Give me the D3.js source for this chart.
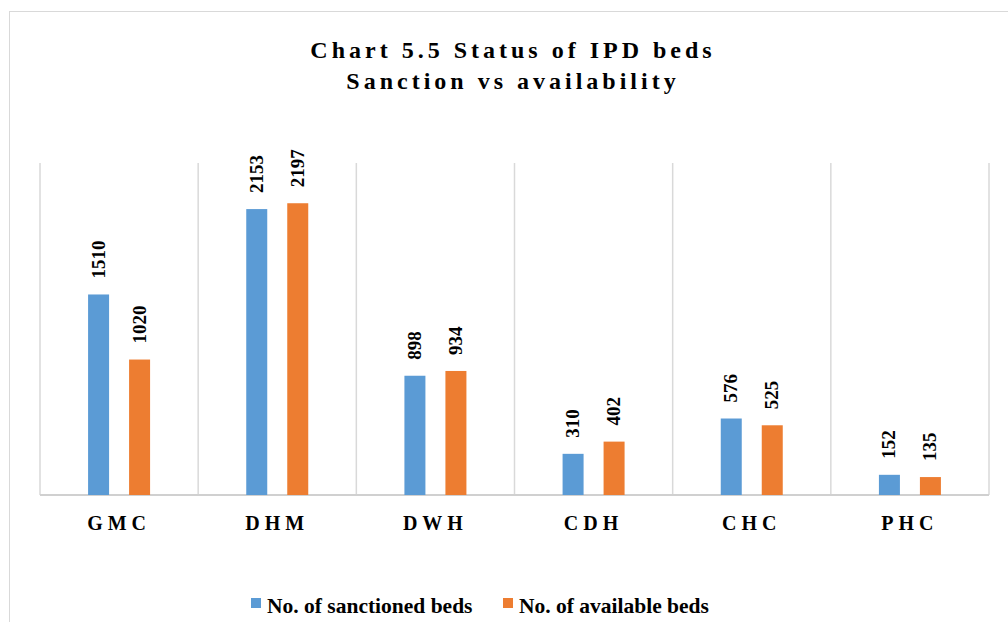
<!DOCTYPE html>
<html>
<head>
<meta charset='utf-8'>
<title>Status of IPD beds</title>
<style>
  body { margin: 0; background: #fff; }
  svg { display: block; font-family: 'Liberation Serif', 'Times New Roman', serif; }
</style>
<script src='https://d3js.org/d3.v7.min.js'></script>
</head>
<body>
<div id="chart"></div>
<script>
// ******* Data *******
const categories = ["GMC", "DHM", "DWH", "CDH", "CHC", "PHC"];
const sanctioned = [1510, 2153, 898, 310, 576, 152];
const available = [1020, 2197, 934, 402, 525, 135];
const seriesNames = ["No. of sanctioned beds", "No. of available beds"];
const colors = ["#5B9BD5", "#ED7D31"];

const width = 1008, height = 622;
const plot = {left: 40, right: 989, top: 163, bottom: 495};

const svg = d3.select("#chart").append("svg")
    .attr("width", width)
    .attr("height", height);

// outer chart frame
svg.append("rect")
    .attr("x", 9.5).attr("y", 11.5)
    .attr("width", 1010).attr("height", 640)
    .attr("fill", "none")
    .attr("stroke", "#d9d9d9");

// ******* Scales *******
const x = d3.scaleBand()
    .domain(categories)
    .range([plot.left, plot.right]);

const y = d3.scaleLinear()
    .domain([0, 2500])
    .range([plot.bottom, plot.top]);

const barW = 21, gap = 20;
const offsets = [-(barW + gap / 2), gap / 2];

// category separators
svg.append("g")
    .selectAll("line")
    .data(categories.concat(["end"]))
    .join("line")
    .attr("x1", (d, i) => i < categories.length ? x(d) : plot.right)
    .attr("x2", (d, i) => i < categories.length ? x(d) : plot.right)
    .attr("y1", plot.top)
    .attr("y2", plot.bottom)
    .attr("stroke", "#d9d9d9")
    .attr("stroke-width", 1.5);

// baseline
svg.append("line")
    .attr("x1", plot.left).attr("x2", plot.right)
    .attr("y1", plot.bottom).attr("y2", plot.bottom)
    .attr("stroke", "#d0d0d0")
    .attr("stroke-width", 2);

// ******* Bars *******
const rows = categories.map((c, i) => ({cat: c, vals: [sanctioned[i], available[i]]}));

const groups = svg.append("g")
    .selectAll("g")
    .data(rows)
    .join("g")
    .attr("transform", d => `translate(${x(d.cat) + x.bandwidth() / 2},0)`);

groups.selectAll("rect")
    .data(d => d.vals)
    .join("rect")
    .attr("x", (d, i) => offsets[i])
    .attr("y", d => y(d))
    .attr("width", barW)
    .attr("height", d => plot.bottom - y(d))
    .attr("fill", (d, i) => colors[i]);

// value labels, rotated
groups.selectAll("text")
    .data(d => d.vals)
    .join("text")
    .attr("transform", (d, i) => `translate(${offsets[i] + barW / 2 + 6},${y(d) - 16}) rotate(-90)`)
    .attr("text-anchor", "start")
    .attr("font-size", 19)
    .attr("font-weight", "bold")
    .attr("fill", "#000")
    .text(d => d);

// ******* Category labels *******
svg.append("g")
    .selectAll("text")
    .data(categories)
    .join("text")
    .attr("x", d => x(d) + x.bandwidth() / 2)
    .attr("y", 530)
    .attr("text-anchor", "middle")
    .attr("font-size", 20)
    .attr("font-weight", "bold")
    .attr("letter-spacing", "5px")
    .text(d => d);

// ******* Title *******
const title = svg.append("text")
    .attr("text-anchor", "middle")
    .attr("font-size", 24)
    .attr("font-weight", "bold")
    .attr("letter-spacing", "4px");
title.append("tspan").attr("x", 513).attr("y", 58).text("Chart 5.5 Status of IPD beds");
title.append("tspan").attr("x", 513).attr("y", 89).text("Sanction vs availability");

// ******* Legend *******
const legendX = [251, 503];
const legend = svg.append("g")
    .selectAll("g")
    .data(seriesNames)
    .join("g")
    .attr("transform", (d, i) => `translate(${legendX[i]},598)`);

legend.append("rect")
    .attr("width", 10).attr("height", 10)
    .attr("fill", (d, i) => colors[i]);

legend.append("text")
    .attr("x", 16)
    .attr("y", 15)
    .attr("font-size", 21.5)
    .attr("font-weight", "bold")
    .text(d => d);
</script>
</body>
</html>
